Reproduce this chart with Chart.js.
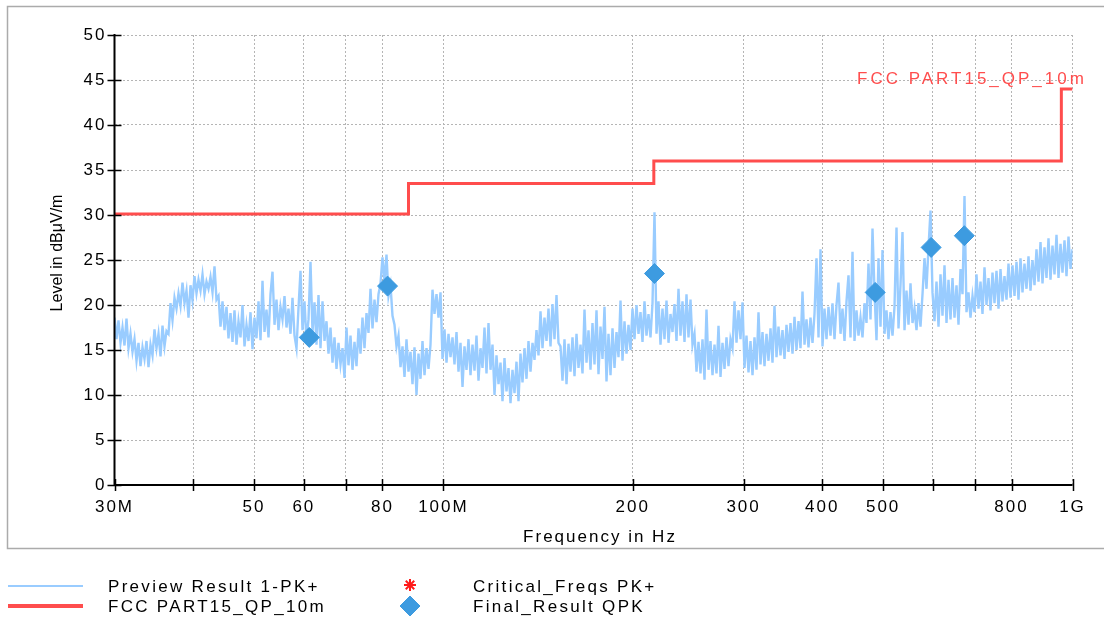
<!DOCTYPE html>
<html>
<head>
<meta charset="utf-8">
<script src="https://cdn.jsdelivr.net/npm/chart.js@4.4.1/dist/chart.umd.min.js"></script>
<style>
  html, body { margin: 0; padding: 0; background: #fff; }
</style>
</head>
<body>
<canvas id="emiChart" width="1104" height="621"></canvas>
<script>
// Preview scan, peak detector (dBuV/m), one value per sweep step
const previewLevel = [
  18.6, 16.2, 18.3, 15.8, 17.5, 15.5, 18.5, 15.2, 16.8, 14.8,
  16.2, 13.8, 15.8, 13.2, 15.3, 14.0, 16.0, 13.1, 15.6, 14.4,
  17.3, 15.2, 16.8, 14.3, 17.7, 15.4, 17.1, 16.8, 20.2, 18.3,
  20.8, 19.6, 21.3, 19.9, 22.5, 20.2, 21.6, 18.6, 22.2, 20.5,
  23.2, 21.3, 22.8, 21.6, 23.4, 21.2, 22.6, 21.8, 23.1, 21.4,
  24.3, 20.6, 21.0, 17.6, 20.4, 17.2, 19.8, 16.3, 19.1, 15.9,
  19.4, 15.6, 18.2, 16.4, 20.0, 15.4, 17.8, 16.0, 19.2, 15.1,
  18.6, 16.3, 20.4, 16.1, 22.7, 17.0, 19.5, 16.4, 21.2, 23.7,
  17.8, 20.6, 17.2, 19.8, 18.4, 21.0, 17.5, 19.6, 16.8, 20.8,
  16.6, 15.2, 19.7, 23.8, 17.2, 20.4, 16.0, 18.4, 24.8, 17.0,
  20.3, 15.6, 21.1, 15.2, 20.4, 16.0, 18.2, 14.6, 17.5, 13.6,
  16.4, 12.9, 15.8, 13.4, 15.2, 11.9, 17.5, 13.3, 16.6, 12.8,
  15.9, 13.2, 17.4, 14.6, 18.6, 15.2, 19.1, 16.9, 21.8, 17.4,
  20.6, 18.1, 21.2, 22.4, 25.3, 22.6, 25.6, 21.0, 22.2, 18.8,
  17.8, 15.4, 16.6, 13.1, 15.4, 12.0, 16.2, 12.6, 14.8, 11.2,
  15.3, 10.0, 14.6, 11.8, 16.0, 12.2, 15.2, 12.9, 15.6, 21.7,
  19.0, 21.2, 18.6, 21.4, 14.0, 17.3, 13.6, 16.8, 14.2, 16.4,
  13.4, 17.0, 12.6, 15.8, 10.9, 15.4, 12.8, 16.2, 12.2, 15.6,
  12.7, 16.6, 11.6, 15.2, 13.0, 17.5, 12.4, 18.0, 12.8, 15.6,
  10.0, 14.4, 11.2, 13.6, 9.3, 14.1, 10.4, 13.0, 9.1, 12.8,
  10.2, 13.7, 9.3, 14.6, 11.4, 15.2, 11.8, 16.0, 12.6, 15.8,
  13.9, 17.2, 14.4, 19.3, 15.2, 18.6, 16.0, 19.6, 15.4, 20.1,
  16.2, 21.1, 15.8, 15.4, 11.6, 16.2, 11.2, 15.7, 12.6, 16.4,
  12.1, 16.8, 13.0, 15.6, 12.4, 19.5, 13.6, 17.2, 12.8, 18.0,
  13.4, 19.4, 12.3, 17.6, 14.0, 19.8, 11.5, 16.8, 12.2, 17.4,
  13.0, 17.0, 14.2, 20.5, 13.8, 18.2, 14.6, 17.8, 15.0, 19.6,
  16.2, 20.0, 16.8, 19.2, 15.9, 20.4, 16.6, 19.0, 16.4, 20.2,
  30.3, 16.8, 20.4, 15.6, 19.6, 16.2, 20.5, 15.8, 19.0, 17.0,
  20.1, 16.0, 21.8, 16.6, 20.4, 15.9, 21.2, 16.4, 20.6, 15.6,
  16.8, 12.6, 15.9, 12.4, 16.2, 11.7, 19.5, 12.8, 16.0, 12.2,
  15.6, 12.4, 17.7, 12.0, 15.8, 12.9, 16.4, 13.2, 16.2, 15.2,
  20.4, 15.8, 19.4, 16.2, 20.3, 13.0, 16.6, 12.5, 16.0, 12.2,
  16.4, 12.8, 19.2, 13.4, 17.0, 13.2, 16.8, 13.8, 17.4, 13.6,
  19.9, 14.2, 17.6, 14.4, 17.2, 14.0, 17.8, 14.8, 18.0, 14.6,
  18.7, 15.0, 18.2, 15.2, 21.5, 15.6, 18.4, 15.3, 18.6, 15.8,
  19.0, 25.2, 16.4, 26.2, 15.4, 19.6, 16.2, 19.8, 16.6, 20.2,
  16.2, 20.0, 22.5, 16.8, 19.6, 16.0, 20.4, 23.3, 16.4, 25.9,
  16.0, 19.4, 16.6, 18.6, 16.4, 20.2, 18.0, 24.6, 18.4, 28.5,
  21.4, 16.1, 25.2, 17.6, 26.1, 16.8, 19.4, 16.2, 19.2, 16.6,
  19.8, 28.6, 17.4, 22.2, 28.1, 17.2, 21.6, 17.8, 22.4, 18.0,
  19.6, 17.2, 20.2, 17.6, 21.2, 25.2, 21.8, 26.4, 30.5, 21.4,
  18.2, 22.6, 17.6, 23.4, 18.8, 24.4, 18.0, 22.8, 18.4, 23.0,
  18.6, 22.2, 17.8, 24.0, 21.2, 32.1, 19.2, 21.4, 18.6, 21.0,
  19.2, 23.4, 19.6, 22.6, 19.0, 24.2, 20.0, 23.0, 19.4, 23.6,
  20.2, 23.8, 19.6, 24.0, 20.4, 23.2, 20.6, 24.6, 20.8, 24.4,
  21.0, 24.8, 20.6, 25.2, 21.4, 24.6, 21.8, 25.4, 21.6, 25.0,
  22.2, 26.2, 22.6, 27.0, 22.4, 26.4, 23.0, 27.4, 22.8, 26.6,
  23.4, 27.8, 23.0, 26.8, 23.6, 27.2, 23.2, 27.6, 24.0, 26.2
];
const sweepStart = 30e6;
const sweepStop = 1e9;
// log-spaced sweep grid, one frequency per level above
const previewFreq = previewLevel.map((_, i) =>
  sweepStart * Math.pow(sweepStop / sweepStart, i / (previewLevel.length - 1)));

// FCC Part 15 QP limit at 10 m (step changes at 88, 216 and 960 MHz)
const limitFreq = [30e6, 88e6, 216e6, 960e6, 1e9];
const limitLevel = [30.1, 33.5, 36.0, 44.0, 44.0];

// quasi-peak final measurements
const finalFreq = [61.2e6, 81.5e6, 216.5e6, 485.7e6, 596e6, 673e6];
const finalLevel = [16.4, 22.1, 23.5, 21.4, 26.4, 27.7];

// no critical frequencies in this run
const criticalFreq = [];
const criticalLevel = [];

const xTicks = [30e6, 40e6, 50e6, 60e6, 70e6, 80e6, 100e6, 200e6, 300e6, 400e6, 500e6, 600e6, 700e6, 800e6, 1e9];
const xTickLabels = ['30M', '', '50', '60', '', '80', '100M', '200', '300', '400', '500', '', '', '800', '1G'];

const toPoints = (xs, ys) => xs.map((f, i) => ({x: f, y: ys[i]}));

const FONT = '"Liberation Sans", Arial, sans-serif';
Chart.defaults.font.family = FONT;
Chart.defaults.color = '#000';

const emiDecor = {
  id: 'emiDecor',
  beforeDraw(chart) {
    const ctx = chart.ctx;
    ctx.letterSpacing = '2px';
    ctx.save();
    ctx.strokeStyle = '#ababab';
    ctx.lineWidth = 1.5;
    ctx.strokeRect(7.5, 6.5, 1110, 542);
    ctx.restore();
  },
  afterDraw(chart) {
    const {ctx, chartArea: a, scales: {x, y}} = chart;
    const ds = chart.data.datasets;
    ctx.save();

    // axes with ticks crossing the line
    ctx.strokeStyle = '#000';
    ctx.lineWidth = 2;
    ctx.beginPath();
    ctx.moveTo(a.left, a.top - 1);
    ctx.lineTo(a.left, a.bottom);
    ctx.lineTo(a.right, a.bottom);
    ctx.stroke();
    ctx.lineWidth = 1.5;
    ctx.beginPath();
    y.ticks.forEach(t => {
      const py = Math.round(y.getPixelForValue(t.value)) + 0.5;
      ctx.moveTo(a.left - 7, py);
      ctx.lineTo(a.left + 7, py);
    });
    x.ticks.forEach(t => {
      const px = Math.round(x.getPixelForValue(t.value)) + 0.5;
      ctx.moveTo(px, a.bottom - 6);
      ctx.lineTo(px, a.bottom + 6);
    });
    ctx.stroke();

    // axis titles
    ctx.fillStyle = '#000';
    ctx.textBaseline = 'middle';
    ctx.textAlign = 'center';
    ctx.letterSpacing = '2px';
    ctx.font = '17px ' + FONT;
    ctx.fillText('Frequency in Hz', 600, 537);
    ctx.letterSpacing = '0px';
    ctx.font = '16px ' + FONT;
    ctx.save();
    ctx.translate(58, 253);
    ctx.rotate(-Math.PI / 2);
    ctx.fillText('Level in dB\u03BCV/m', 0, 0);
    ctx.restore();

    // limit line name
    ctx.textAlign = 'left';
    ctx.font = '17px ' + FONT;
    ctx.letterSpacing = '3px';
    ctx.fillStyle = ds[1].borderColor;
    ctx.fillText('FCC PART15_QP_10m', 857, 79);

    // legend
    ctx.letterSpacing = '2.3px';
    ctx.fillStyle = '#000';
    ctx.fillText(ds[0].label, 108, 587);
    ctx.fillText(ds[1].label, 108, 607);
    ctx.fillText(ds[2].label, 473, 587);
    ctx.fillText(ds[3].label, 473, 607);

    ctx.lineWidth = 2;
    ctx.strokeStyle = ds[0].borderColor;
    ctx.beginPath(); ctx.moveTo(8, 586); ctx.lineTo(83, 586); ctx.stroke();
    ctx.lineWidth = 4;
    ctx.strokeStyle = ds[1].borderColor;
    ctx.beginPath(); ctx.moveTo(8, 606); ctx.lineTo(83, 606); ctx.stroke();

    ctx.strokeStyle = ds[2].borderColor;
    ctx.fillStyle = ds[2].backgroundColor;
    ctx.lineWidth = 2;
    Chart.helpers.drawPoint(ctx, {pointStyle: 'star', radius: 6, rotation: 0, borderWidth: 2}, 410, 585);
    ctx.strokeStyle = ds[3].borderColor;
    ctx.fillStyle = ds[3].backgroundColor;
    ctx.lineWidth = 1;
    Chart.helpers.drawPoint(ctx, {pointStyle: 'rectRot', radius: 10, rotation: 0, borderWidth: 1}, 410, 606);

    ctx.restore();
  }
};

new Chart(document.getElementById('emiChart'), {
  type: 'line',
  data: {
    datasets: [
      {
        label: 'Preview Result 1-PK+',
        data: toPoints(previewFreq, previewLevel),
        borderColor: '#99ccff',
        borderWidth: 2.4,
        pointRadius: 0,
        order: 4
      },
      {
        label: 'FCC PART15_QP_10m',
        data: toPoints(limitFreq, limitLevel),
        borderColor: '#ff4d4d',
        borderWidth: 3,
        stepped: true,
        pointRadius: 0,
        order: 3
      },
      {
        label: 'Critical_Freqs PK+',
        data: toPoints(criticalFreq, criticalLevel),
        type: 'scatter',
        borderColor: '#ff1a1a',
        backgroundColor: '#ff1a1a',
        pointStyle: 'star',
        pointRadius: 6,
        order: 2
      },
      {
        label: 'Final_Result QPK',
        data: toPoints(finalFreq, finalLevel),
        type: 'scatter',
        borderColor: '#3d9be0',
        backgroundColor: '#3d9be0',
        pointStyle: 'rectRot',
        pointRadius: 10,
        borderWidth: 1,
        order: 1
      }
    ]
  },
  options: {
    responsive: false,
    animation: false,
    events: [],
    layout: {padding: {left: 0, right: 31.5, top: 35, bottom: 66}},
    plugins: {legend: {display: false}, tooltip: {enabled: false}},
    scales: {
      x: {
        type: 'logarithmic',
        min: 30e6,
        max: 1e9,
        afterBuildTicks: s => { s.ticks = xTicks.map(v => ({value: v})); },
        afterFit: s => { s.height = 70; s.paddingLeft = 0; s.paddingRight = 0; },
        ticks: {
          autoSkip: false,
          maxRotation: 0,
          padding: 12,
          font: {size: 17},
          color: '#000',
          callback: (v, i) => xTickLabels[i]
        },
        grid: {color: '#b5b5b5', lineWidth: 1, drawTicks: false},
        border: {display: false, dash: [2, 2]}
      },
      y: {
        min: 0,
        max: 50,
        afterFit: s => { s.width = 114.5; s.paddingTop = 0; s.paddingBottom = 0; },
        ticks: {
          stepSize: 2.5,
          padding: 8,
          font: {size: 17},
          color: '#000',
          callback: v => (v % 5 === 0 ? String(v) : '')
        },
        grid: {color: '#b5b5b5', lineWidth: 1, drawTicks: false},
        border: {display: false, dash: [2, 2]}
      }
    }
  },
  plugins: [emiDecor]
});
</script>
</body>
</html>
